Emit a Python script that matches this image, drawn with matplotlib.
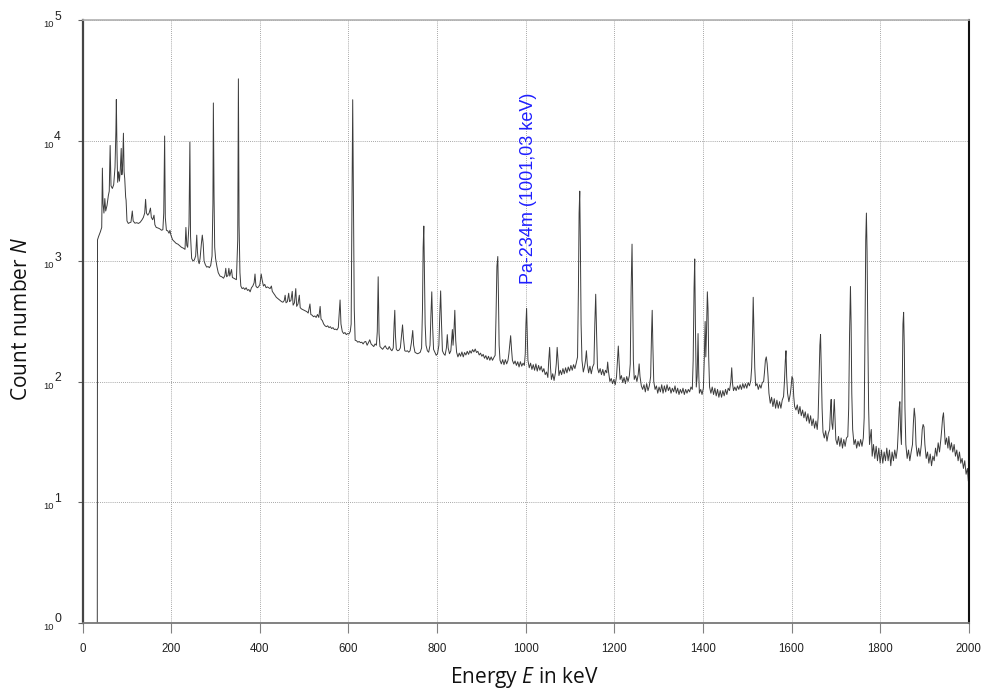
import numpy as np
import matplotlib
matplotlib.use('Agg')
import matplotlib.pyplot as plt

plt.rcParams['mathtext.fontset'] = 'custom'
plt.rcParams['mathtext.it'] = 'Open Sans:italic'
plt.rcParams['mathtext.rm'] = 'Open Sans'

# gamma spectrum: (energy in keV, count number)
spectrum_points = [
    (33, 1), (33.5, 1500), (36, 1600), (40, 1750), (43, 1900), (44.5, 5900), (46, 3000),
    (48, 2500), (50, 3300), (52, 2600), (55, 2900), (58, 3500), (60, 3800), (62, 9100),
    (64, 4200), (67, 4000), (70, 4300), (73, 6000), (75, 12000), (76, 21900), (77.5, 8000),
    (79, 4500), (81, 5500), (83, 4600), (85, 5800), (87, 8600), (88.5, 5200), (90, 6000),
    (92, 11500), (93.5, 5500), (95, 4800), (97, 3400), (98, 3200), (100, 2150), (103, 2050),
    (106, 2080), (109, 2100), (112, 2600), (114, 2150), (118, 2060), (122, 2080), (126, 2050),
    (130, 2100), (134, 2200), (137, 2300), (140, 2500), (142, 3250), (144, 2500), (147, 2400),
    (150, 2500), (153, 2750), (155, 2300), (158, 2200), (161, 2400), (163, 2000), (166, 1900),
    (170, 1880), (174, 1850), (178, 1800), (181, 1820), (183, 2500), (185, 10900), (186.5, 2300),
    (189, 1800), (192, 1780), (195, 1700), (197, 1800), (199, 1650), (203, 1500), (207, 1450),
    (211, 1400), (215, 1380), (219, 1340), (223, 1300), (227, 1280), (231, 1250), (233, 1900),
    (235, 1350), (237, 1300), (240, 2000), (242, 9700), (243.5, 1600), (246, 1050), (249, 1000),
    (252, 1020), (255, 1100), (257.5, 1640), (259, 1200), (261, 1000), (263, 950), (265, 1050),
    (268, 1400), (270, 1640), (272, 1400), (274, 1000), (277, 930), (280, 890), (283, 900),
    (286, 880), (289, 920), (292, 1100), (294, 3000), (295, 20500), (296.5, 3500), (298, 1300),
    (300, 1050), (303, 900), (306, 800), (310, 750), (314, 740), (318, 720), (321, 760),
    (323, 870), (325, 740), (328, 760), (330, 870), (332, 750), (334, 800), (336, 850),
    (338, 730), (341, 720), (344, 710), (347, 700), (350, 1500), (351.5, 32500), (353, 2000),
    (355, 800), (357, 620), (360, 590), (363, 600), (366, 580), (369, 600), (372, 570),
    (375, 580), (378, 555), (381, 600), (384, 620), (387, 660), (389, 780), (391, 620),
    (394, 600), (397, 610), (400, 640), (403, 780), (405, 700), (408, 620), (411, 640),
    (414, 600), (417, 610), (420, 600), (423, 590), (426, 620), (428, 560), (431, 540),
    (434, 520), (437, 500), (440, 490), (443, 480), (446, 470), (449, 460), (452, 455),
    (455, 470), (457, 520), (459, 450), (462, 460), (465, 540), (467, 460), (470, 470),
    (473, 560), (475, 430), (478, 450), (481, 590), (483, 420), (486, 440), (489, 520),
    (491, 410), (494, 400), (497, 395), (500, 390), (503, 385), (506, 380), (509, 370),
    (513, 440), (515, 360), (518, 355), (521, 345), (524, 350), (527, 340), (530, 360),
    (533, 340), (536, 420), (538, 330), (541, 320), (544, 300), (547, 290), (550, 285),
    (553, 290), (556, 280), (559, 285), (562, 275), (565, 280), (568, 270), (571, 272),
    (574, 268), (577, 280), (579, 360), (581, 475), (583, 300), (586, 260), (589, 250),
    (592, 255), (595, 245), (598, 250), (601, 248), (604, 260), (606, 300), (608, 3000),
    (609.5, 21800), (611, 3500), (613, 400), (615, 220), (618, 218), (621, 212), (624, 215),
    (627, 210), (630, 212), (633, 205), (636, 213), (639, 215), (642, 200), (645, 210),
    (648, 222), (651, 205), (654, 200), (657, 195), (660, 205), (663, 200), (665, 260),
    (667, 740), (669, 250), (671, 195), (674, 190), (677, 185), (680, 192), (683, 198),
    (686, 188), (689, 185), (692, 195), (695, 185), (698, 180), (701, 190), (703, 300),
    (704.5, 390), (706, 240), (708, 185), (711, 180), (714, 182), (717, 190), (720, 250),
    (722, 295), (724, 230), (727, 180), (730, 178), (733, 180), (736, 175), (739, 180),
    (742, 210), (745, 265), (747, 200), (750, 175), (753, 172), (756, 170), (759, 172),
    (762, 175), (765, 190), (767, 400), (768.5, 1300), (770, 1950), (771.5, 800), (773, 300),
    (775, 200), (778, 180), (781, 175), (784, 200), (786, 350), (788, 555), (790, 280),
    (792, 185), (795, 175), (798, 165), (801, 170), (804, 200), (806, 350), (808, 565),
    (810, 300), (812, 180), (815, 170), (818, 165), (821, 190), (823, 245), (825, 190),
    (828, 170), (831, 180), (833, 230), (834.5, 270), (836, 200), (838, 260), (840, 390),
    (842, 220), (844, 175), (847, 160), (850, 172), (853, 162), (856, 176), (859, 160),
    (862, 174), (865, 166), (868, 178), (871, 168), (874, 180), (877, 172), (880, 184),
    (883, 176), (886, 186), (889, 174), (892, 178), (895, 166), (898, 172), (901, 162),
    (904, 168), (907, 156), (910, 164), (913, 152), (916, 162), (919, 150), (922, 160),
    (925, 150), (928, 158), (931, 165), (933, 350), (935, 900), (937, 1090), (938.5, 500),
    (940, 200), (942, 150), (945, 140), (948, 152), (951, 138), (954, 152), (957, 140),
    (960, 150), (962, 170), (964, 200), (966, 240), (968, 185), (970, 150), (973, 140),
    (976, 148), (979, 136), (982, 146), (985, 132), (988, 146), (991, 134), (994, 142),
    (997, 136), (999, 170), (1000.5, 300), (1002, 405), (1003.5, 250), (1005, 150), (1008, 130),
    (1011, 142), (1014, 126), (1017, 138), (1020, 124), (1023, 140), (1026, 122), (1029, 136),
    (1032, 124), (1035, 134), (1038, 120), (1041, 128), (1044, 114), (1047, 120), (1050, 108),
    (1052, 150), (1054, 192), (1056, 130), (1058, 104), (1061, 116), (1064, 102), (1067, 118),
    (1069, 140), (1071, 192), (1073, 150), (1075, 112), (1078, 124), (1081, 114), (1084, 128),
    (1087, 116), (1090, 130), (1093, 118), (1096, 132), (1099, 122), (1102, 136), (1105, 124),
    (1108, 138), (1111, 128), (1114, 142), (1117, 160), (1119, 600), (1120.5, 2500), (1122, 3800),
    (1123.5, 1200), (1125, 300), (1127, 150), (1130, 120), (1133, 134), (1135, 150), (1137, 180),
    (1139, 140), (1142, 118), (1145, 134), (1148, 116), (1151, 132), (1154, 140), (1156, 300),
    (1158, 530), (1160, 250), (1162, 130), (1165, 118), (1168, 128), (1171, 114), (1174, 126),
    (1177, 112), (1180, 124), (1183, 118), (1185, 145), (1187, 120), (1190, 100), (1193, 106),
    (1196, 96), (1199, 104), (1202, 94), (1205, 110), (1207, 150), (1209, 197), (1211, 140),
    (1213, 104), (1216, 112), (1219, 98), (1222, 108), (1225, 96), (1228, 110), (1231, 100),
    (1234, 112), (1236, 140), (1238, 600), (1240, 1380), (1241.5, 500), (1243, 150), (1245, 104),
    (1248, 112), (1251, 100), (1254, 115), (1256, 140), (1258, 110), (1261, 92), (1264, 86),
    (1267, 94), (1270, 82), (1273, 96), (1276, 84), (1279, 92), (1282, 110), (1284, 250),
    (1285.5, 390), (1287, 200), (1289, 100), (1292, 86), (1295, 92), (1298, 80), (1301, 90),
    (1304, 82), (1307, 94), (1310, 80), (1313, 92), (1316, 82), (1319, 94), (1322, 84),
    (1325, 90), (1328, 80), (1331, 88), (1334, 82), (1337, 92), (1340, 80), (1343, 88),
    (1346, 78), (1349, 86), (1352, 80), (1355, 88), (1358, 78), (1361, 86), (1364, 80),
    (1367, 86), (1370, 82), (1373, 90), (1376, 86), (1378, 150), (1380, 600), (1381.5, 1040),
    (1383, 300), (1385, 90), (1387, 110), (1389, 250), (1390.5, 120), (1392, 80), (1395, 86),
    (1398, 78), (1401, 88), (1403, 150), (1405, 315), (1406.5, 160), (1408, 250), (1410, 555),
    (1411.5, 400), (1413, 160), (1415, 90), (1418, 80), (1421, 90), (1424, 78), (1427, 88),
    (1430, 76), (1433, 86), (1436, 74), (1439, 84), (1442, 74), (1445, 84), (1448, 76),
    (1451, 86), (1454, 78), (1457, 88), (1460, 84), (1463, 100), (1465, 130), (1467, 95),
    (1469, 84), (1472, 90), (1475, 84), (1478, 92), (1481, 86), (1484, 94), (1487, 86),
    (1490, 96), (1493, 88), (1496, 96), (1499, 88), (1502, 98), (1505, 92), (1508, 102),
    (1510, 130), (1512, 250), (1513.5, 500), (1515, 280), (1517, 130), (1519, 92), (1522, 96),
    (1525, 86), (1528, 94), (1531, 88), (1534, 98), (1537, 100), (1539, 120), (1541, 150),
    (1543, 160), (1545, 140), (1547, 110), (1549, 80), (1552, 66), (1555, 74), (1558, 62),
    (1561, 72), (1564, 60), (1567, 70), (1570, 60), (1573, 68), (1576, 60), (1579, 70),
    (1582, 75), (1584, 100), (1586, 150), (1587.5, 180), (1589, 110), (1591, 80), (1594, 68),
    (1597, 78), (1599, 90), (1601, 110), (1603, 105), (1605, 75), (1607, 62), (1610, 58),
    (1613, 64), (1616, 54), (1619, 62), (1622, 52), (1625, 58), (1628, 50), (1631, 56),
    (1634, 47), (1637, 54), (1640, 45), (1643, 52), (1646, 43), (1649, 49), (1652, 41),
    (1655, 47), (1658, 40), (1660, 50), (1662, 100), (1664, 200), (1665.5, 245), (1667, 130),
    (1669, 60), (1671, 38), (1674, 34), (1677, 39), (1680, 32), (1683, 37), (1686, 40),
    (1688, 60), (1689.5, 71), (1691, 45), (1693, 40), (1695, 55), (1696.5, 71), (1698, 50),
    (1700, 33), (1703, 30), (1706, 35), (1709, 29), (1712, 34), (1715, 28), (1718, 33),
    (1721, 29), (1724, 34), (1727, 35), (1729, 60), (1731, 250), (1733, 615), (1734.5, 300),
    (1736, 80), (1738, 40), (1741, 30), (1744, 33), (1747, 28), (1750, 32), (1753, 29),
    (1756, 33), (1759, 29), (1762, 34), (1764, 50), (1766, 300), (1767.5, 1500), (1769, 2500),
    (1770.5, 1200), (1772, 300), (1774, 60), (1776, 30), (1778, 35), (1780, 40), (1782, 24),
    (1785, 30), (1788, 23), (1791, 29), (1794, 22), (1797, 28), (1800, 21), (1803, 27),
    (1806, 21), (1809, 26), (1812, 22), (1815, 28), (1818, 22), (1821, 27), (1824, 20),
    (1827, 26), (1830, 22), (1833, 27), (1836, 23), (1839, 28), (1841, 40), (1843, 60),
    (1844.5, 68), (1846, 40), (1848, 30), (1850, 100), (1851.5, 300), (1853, 375), (1854.5, 200),
    (1856, 60), (1858, 30), (1861, 23), (1864, 27), (1867, 22), (1870, 26), (1873, 30),
    (1875, 45), (1877, 60), (1879, 50), (1881, 30), (1884, 24), (1887, 28), (1890, 24),
    (1893, 30), (1895, 40), (1897, 44), (1899, 42), (1901, 30), (1904, 23), (1907, 26),
    (1910, 21), (1913, 25), (1916, 20), (1919, 24), (1922, 22), (1925, 28), (1928, 24),
    (1931, 31), (1934, 26), (1937, 33), (1939, 40), (1941, 50), (1943, 55), (1945, 40),
    (1947, 30), (1950, 34), (1953, 28), (1955, 35), (1958, 27), (1961, 31), (1964, 26),
    (1967, 30), (1970, 24), (1973, 27), (1976, 22), (1979, 26), (1982, 21), (1985, 23),
    (1988, 19), (1991, 22), (1994, 17), (1997, 19), (1999, 15),
]

x_ticks = [0, 200, 400, 600, 800, 1000, 1200, 1400, 1600, 1800, 2000]
y_exponents = [0, 1, 2, 3, 4, 5]

label_text = 'Pa-234m (1001,03 keV)'
label_energy = 1007
label_count = 640

energy_kev, counts = np.array(spectrum_points).T

fig = plt.figure(figsize=(9.83, 6.88), dpi=100)
ax = fig.add_axes([0.0841, 0.0952, 0.9014, 0.8757])

ax.plot(energy_kev, counts, color='#3c3c3c', linewidth=0.7)

ax.set_yscale('log')
ax.set_xlim(0, 2000)
ax.set_ylim(1, 1e5)
ax.set_xticks(x_ticks)
ax.set_yticks([10.0 ** e for e in y_exponents])
ax.minorticks_off()
ax.set_yticklabels([])

ax.tick_params(axis='x', direction='out', length=7, width=0.8, color='#808080',
               pad=8, labelsize=8.3, labelcolor='#222222')
ax.tick_params(axis='y', direction='out', length=3.5, width=0.8, color='#606060')
for lab in ax.get_xticklabels():
    lab.set_family('Liberation Sans')

# tick labels in the "small 10, big exponent" look of the original software
for e in y_exponents:
    ax.annotate('10', xy=(0, 10.0 ** e), xycoords=ax.get_yaxis_transform(),
                xytext=(-28.5, -4.5), textcoords='offset pixels',
                ha='right', va='center', fontsize=6.8, family='Liberation Sans', color='#222222')
    ax.annotate(str(e), xy=(0, 10.0 ** e), xycoords=ax.get_yaxis_transform(),
                xytext=(-28.5, 3.5), textcoords='offset pixels',
                ha='left', va='center', fontsize=8.8, family='Liberation Sans', color='#222222')

ax.grid(True, which='major', color='#8a8a8a', linestyle=(0, (1, 1.5)), linewidth=0.6)

ax.spines['left'].set_color('#454545')
ax.spines['left'].set_linewidth(1.6)
ax.spines['bottom'].set_color('#777777')
ax.spines['bottom'].set_linewidth(1.3)
ax.spines['right'].set_color('#111111')
ax.spines['right'].set_linewidth(1.5)
ax.spines['top'].set_color('#b0b0b0')
ax.spines['top'].set_linewidth(1.2)

ax.text(label_energy, label_count, label_text, rotation=90, ha='center', va='bottom',
        fontsize=13, color='#1f1fff', family='Liberation Sans')

fig.text(524 / 983, 5.5 / 688, 'Energy $E$ in keV', ha='center', va='baseline',
         fontsize=15, family='Open Sans', color='#111111')
fig.text(27 / 983, 369 / 688, 'Count number $N$', rotation=90, rotation_mode='anchor',
         ha='center', va='baseline', fontsize=15, family='Open Sans', color='#111111')

plt.savefig('out.png', dpi=100)
